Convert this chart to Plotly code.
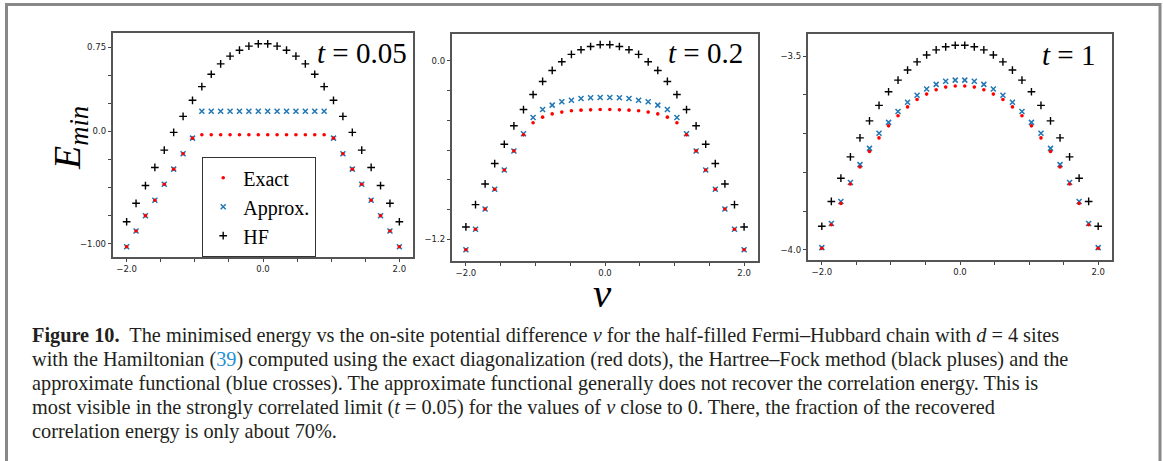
import plotly.graph_objects as go

W, H = 1163, 461

# ---------------- data ----------------
v_grid = [-2.000, -1.862, -1.724, -1.586, -1.448, -1.310, -1.172, -1.034, -0.897, -0.759,
          -0.621, -0.483, -0.345, -0.207, -0.069, 0.069, 0.207, 0.345, 0.483, 0.621,
          0.759, 0.897, 1.034, 1.172, 1.310, 1.448, 1.586, 1.724, 1.862, 2.000]

# t = 0.05
hf_005 = [-0.804, -0.640, -0.482, -0.321, -0.167, -0.009, 0.134, 0.277, 0.399, 0.509,
          0.601, 0.670, 0.723, 0.759, 0.780, 0.780, 0.759, 0.723, 0.670, 0.601,
          0.509, 0.399, 0.277, 0.134, -0.009, -0.167, -0.321, -0.482, -0.640, -0.804]
approx_005 = [-1.027, -0.887, -0.750, -0.613, -0.470, -0.336, -0.199, -0.060, 0.179, 0.179,
              0.179, 0.179, 0.179, 0.179, 0.179, 0.179, 0.179, 0.179, 0.179, 0.179,
              0.179, 0.179, -0.060, -0.199, -0.336, -0.470, -0.613, -0.750, -0.887, -1.027]
exact_005 = [-1.027, -0.887, -0.750, -0.613, -0.470, -0.336, -0.199, -0.060, -0.030, -0.030,
             -0.030, -0.030, -0.030, -0.030, -0.030, -0.030, -0.030, -0.030, -0.030, -0.030,
             -0.030, -0.030, -0.060, -0.199, -0.336, -0.470, -0.613, -0.750, -0.887, -1.027]

# t = 0.2
hf_02 = [-1.117, -0.967, -0.828, -0.691, -0.561, -0.437, -0.328, -0.227, -0.139, -0.065,
         -0.007, 0.043, 0.074, 0.096, 0.108, 0.108, 0.096, 0.074, 0.043, -0.007,
         -0.065, -0.139, -0.227, -0.328, -0.437, -0.561, -0.691, -0.828, -0.967, -1.117]
approx_02 = [-1.270, -1.133, -0.996, -0.864, -0.734, -0.606, -0.491, -0.381, -0.328, -0.298,
             -0.276, -0.265, -0.254, -0.249, -0.247, -0.247, -0.249, -0.254, -0.265, -0.276,
             -0.298, -0.328, -0.381, -0.491, -0.606, -0.734, -0.864, -0.996, -1.133, -1.270]
exact_02 = [-1.270, -1.133, -0.996, -0.864, -0.734, -0.606, -0.498, -0.417, -0.379, -0.357,
            -0.345, -0.336, -0.332, -0.330, -0.328, -0.328, -0.330, -0.332, -0.336, -0.345,
            -0.357, -0.379, -0.417, -0.498, -0.606, -0.734, -0.864, -0.996, -1.133, -1.270]

# t = 1
hf_1 = [-3.939, -3.875, -3.815, -3.760, -3.711, -3.667, -3.627, -3.592, -3.562, -3.536,
        -3.515, -3.497, -3.484, -3.476, -3.472, -3.472, -3.476, -3.484, -3.497, -3.515,
        -3.536, -3.562, -3.592, -3.627, -3.667, -3.711, -3.760, -3.815, -3.875, -3.939]
approx_1 = [-3.994, -3.932, -3.875, -3.826, -3.780, -3.738, -3.699, -3.671, -3.643, -3.619,
            -3.601, -3.585, -3.573, -3.565, -3.562, -3.562, -3.565, -3.573, -3.585, -3.601,
            -3.619, -3.643, -3.671, -3.699, -3.738, -3.780, -3.826, -3.875, -3.932, -3.994]
exact_1 = [-3.996, -3.935, -3.880, -3.830, -3.786, -3.746, -3.711, -3.680, -3.654, -3.631,
           -3.612, -3.598, -3.587, -3.580, -3.577, -3.577, -3.580, -3.587, -3.598, -3.612,
           -3.631, -3.654, -3.680, -3.711, -3.746, -3.786, -3.830, -3.880, -3.935, -3.996]

panel_titles = ["<i>t</i> = 0.05", "<i>t</i> = 0.2", "<i>t</i> = 1"]
series_names = ["Exact", "Approx.", "HF"]

x_tickvals = [-2.0, 0.0, 2.0]
x_ticktext = ["\u22122.0", "0.0", "2.0"]
x_minorvals = [-2.0, -1.5, -1.0, -0.5, 0.0, 0.5, 1.0, 1.5, 2.0]

y_tickvals_1 = [-1.0, 0.0, 0.75]
y_ticktext_1 = ["\u22121.00", "0.0", "0.75"]
y_minorvals_1 = [-1.0, -0.75, -0.5, -0.25, 0.0, 0.25, 0.5, 0.75]
y_tickvals_2 = [-1.2, 0.0]
y_ticktext_2 = ["\u22121.2", "0.0"]
y_minorvals_2 = [-1.2, -1.0, -0.8, -0.6, -0.4, -0.2, 0.0]
y_tickvals_3 = [-4.0, -3.5]
y_ticktext_3 = ["\u22124.0", "\u22123.5"]
y_minorvals_3 = [-4.0, -3.9, -3.8, -3.7, -3.6, -3.5]

caption_lines = [
    "<b>Figure 10.</b>  The minimised energy vs the on-site potential difference <i>v</i> for the half-filled Fermi\u2013Hubbard chain with <i>d</i> = 4 sites",
    "with the Hamiltonian (<span style='color:#1f8fd6'>39</span>) computed using the exact diagonalization (red dots), the Hartree\u2013Fock method (black pluses) and the",
    "approximate functional (blue crosses). The approximate functional generally does not recover the correlation energy. This is",
    "most visible in the strongly correlated limit (<i>t</i> = 0.05) for the values of <i>v</i> close to 0. There, the fraction of the recovered",
    "correlation energy is only about 70%.",
]

# ---------------- layout geometry (pixels) ----------------
def px_x(p):
    return p / W

def px_y(p):
    return 1 - p / H

panels = [
    dict(x0=113, x1=413, y0=33, y1=257, yr=[-1.118, 0.876], tv=y_tickvals_1, tt=y_ticktext_1,
         mv=y_minorvals_1, hf=hf_005, ap=approx_005, ex=exact_005, tx=409, ty=53),
    dict(x0=452, x1=758, y0=34, y1=261, yr=[-1.346, 0.180], tv=y_tickvals_2, tt=y_ticktext_2,
         mv=y_minorvals_2, hf=hf_02, ap=approx_02, ex=exact_02, tx=745, ty=53),
    dict(x0=808, x1=1112, y0=34, y1=260, yr=[-4.026, -3.443], tv=y_tickvals_3, tt=y_ticktext_3,
         mv=y_minorvals_3, hf=hf_1, ap=approx_1, ex=exact_1, tx=1097, ty=55),
]

fig = go.Figure()
SERIF = "Liberation Serif"
TICKFONT = dict(family="DejaVu Sans", size=8.5, color="#222")

for i, p in enumerate(panels):
    xa = "x" if i == 0 else f"x{i+1}"
    ya = "y" if i == 0 else f"y{i+1}"
    show = (i == 0)
    fig.add_trace(go.Scatter(x=v_grid, y=p["hf"], mode="markers", name=series_names[2],
                             xaxis=xa, yaxis=ya, showlegend=show, legendrank=3,
                             marker=dict(symbol="cross-thin", size=5.5,
                                         line=dict(color="black", width=1.4), color="black")))
    fig.add_trace(go.Scatter(x=v_grid, y=p["ap"], mode="markers", name=series_names[1],
                             xaxis=xa, yaxis=ya, showlegend=show, legendrank=2,
                             marker=dict(symbol="x-thin", size=5,
                                         line=dict(color="#1f77b4", width=1.5), color="#1f77b4")))
    fig.add_trace(go.Scatter(x=v_grid, y=p["ex"], mode="markers", name=series_names[0],
                             xaxis=xa, yaxis=ya, showlegend=show, legendrank=1,
                             marker=dict(symbol="circle", size=3.6, color="red",
                                         line=dict(width=0))))

    axis_common = dict(showgrid=False, zeroline=False, showline=True, mirror=True,
                       linecolor="#555", linewidth=1.5, ticks="outside", ticklen=3.5,
                       tickwidth=1, tickcolor="#444", tickfont=TICKFONT, tickmode="array")
    minor_common = dict(ticks="outside", ticklen=3.5, tickwidth=1, tickcolor="#444",
                        showgrid=False, tickmode="array")
    xkey = "xaxis" if i == 0 else f"xaxis{i+1}"
    ykey = "yaxis" if i == 0 else f"yaxis{i+1}"
    fig.update_layout(**{
        xkey: dict(domain=[px_x(p["x0"]), px_x(p["x1"])], range=[-2.2, 2.2],
                   anchor=ya, tickvals=x_tickvals, ticktext=x_ticktext,
                   minor=dict(tickvals=x_minorvals, **minor_common), **axis_common),
        ykey: dict(domain=[px_y(p["y1"]), px_y(p["y0"])], range=p["yr"],
                   anchor=xa, tickvals=p["tv"], ticktext=p["tt"],
                   minor=dict(tickvals=p["mv"], **minor_common), **axis_common),
    })
    fig.add_annotation(text=panel_titles[i], xref="paper", yref="paper",
                       x=px_x(p["tx"]), y=px_y(p["ty"]), xanchor="right", yanchor="middle",
                       showarrow=False, font=dict(family=SERIF, size=29, color="black"))

# axis labels
fig.add_annotation(text="<i>E</i><sub><i>min</i></sub>", xref="paper", yref="paper",
                   x=px_x(70), y=px_y(138), xanchor="center", yanchor="middle",
                   textangle=-90, showarrow=False,
                   font=dict(family=SERIF, size=38, color="black"))
fig.add_annotation(text="<i>v</i>", xref="paper", yref="paper",
                   x=px_x(602), y=px_y(293), xanchor="center", yanchor="middle",
                   showarrow=False, font=dict(family=SERIF, size=41, color="black"))

# caption
cap_y = [335, 359, 383, 407, 431]
for line, yy in zip(caption_lines, cap_y):
    fig.add_annotation(text=line, xref="paper", yref="paper", x=px_x(30), y=px_y(yy),
                       xanchor="left", yanchor="middle", showarrow=False,
                       font=dict(family=SERIF, size=20.3, color="#231f20"))

# outer frame
fig.add_shape(type="rect", xref="paper", yref="paper",
              x0=px_x(6.5), x1=px_x(1160), y0=px_y(480), y1=px_y(4.5),
              line=dict(color="#888", width=3), fillcolor="rgba(0,0,0,0)", layer="below")

fig.update_layout(
    width=W, height=H, margin=dict(l=0, r=0, t=0, b=0),
    paper_bgcolor="white", plot_bgcolor="white",
    legend=dict(x=px_x(202), y=px_y(157), xanchor="left", yanchor="top",
                bgcolor="white", bordercolor="#333", borderwidth=1.2,
                font=dict(family=SERIF, size=20, color="black"),
                itemwidth=30, tracegroupgap=0),
)

fig.write_html("out.html")
